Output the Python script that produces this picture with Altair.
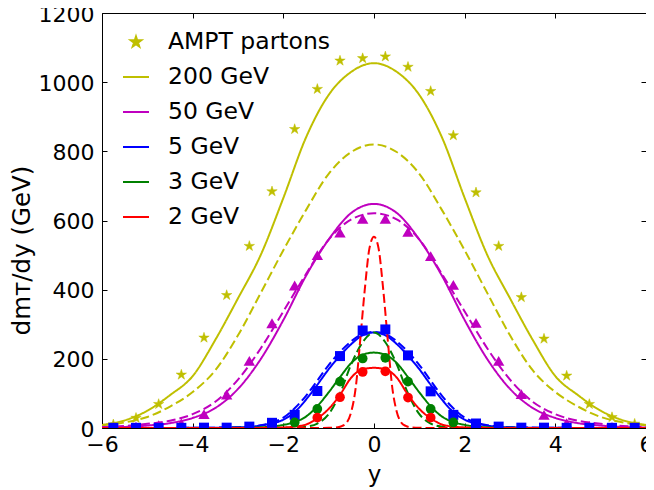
import math
import altair as alt
import pandas as pd

# ---------------- data ----------------
SERIES = ["AMPT partons", "200 GeV", "50 GeV", "5 GeV", "3 GeV", "2 GeV"]
COLORS = ["#bfbf00", "#bfbf00", "#bf00bf", "#0000ff", "#008000", "#ff0000"]

# wide curves (200 GeV, 50 GeV)
x_wide = [-6.0, -5.5, -5.0, -4.5, -4.0, -3.5, -3.0, -2.5, -2.0, -1.5, -1.0, -0.5, 0.0,
          0.5, 1.0, 1.5, 2.0, 2.5, 3.0, 3.5, 4.0, 4.5, 5.0, 5.5, 6.0]
y200_solid = [9, 22, 50, 95, 150, 255, 375, 500, 665, 840, 963, 1030, 1055,
              1030, 963, 840, 665, 500, 375, 255, 150, 95, 50, 22, 9]
y200_dash = [8, 16, 32, 62, 104, 167, 268, 390, 514, 630, 735, 798, 820,
             798, 735, 630, 514, 390, 268, 167, 104, 62, 32, 16, 8]
y50_solid = [1.5, 3, 7, 14, 29, 58, 113, 199, 312, 440, 545, 622, 648,
             622, 545, 440, 312, 199, 113, 58, 29, 14, 7, 3, 1.5]
y50_dash = [3, 6, 12, 21, 40, 76, 140, 230, 337, 445, 545, 603, 621,
            603, 545, 445, 337, 230, 140, 76, 40, 21, 12, 6, 3]

# narrower curves (5, 3, 2 GeV)
x_mid = [-6.0, -4.0, -3.0, -2.5, -2.25, -2.0, -1.75, -1.5, -1.25, -1.0, -0.75, -0.5, -0.25, 0.0,
         0.25, 0.5, 0.75, 1.0, 1.25, 1.5, 1.75, 2.0, 2.25, 2.5, 3.0, 4.0, 6.0]
y5_solid = [0, 0.5, 2, 7, 13, 24, 46, 82, 125, 170, 209, 243, 268, 276,
            268, 243, 209, 170, 125, 82, 46, 24, 13, 7, 2, 0.5, 0]
y5_dash = [0, 0.5, 2.5, 8, 16, 30, 57, 93, 137, 182, 220, 251, 272, 278,
           272, 251, 220, 182, 137, 93, 57, 30, 16, 8, 2.5, 0.5, 0]
y3_solid = [0, 0.2, 0.5, 2, 4, 9, 17, 33, 63, 103, 147, 188, 212, 218,
            212, 188, 147, 103, 63, 33, 17, 9, 4, 2, 0.5, 0.2, 0]
y3_dash = [0, 0, 0, 0.2, 0.3, 0.5, 1.5, 4, 13, 40, 100, 185, 248, 276,
           248, 185, 100, 40, 13, 4, 1.5, 0.5, 0.3, 0.2, 0, 0, 0]
y2_solid = [0, 0, 0.1, 0.3, 0.7, 1.5, 4, 10, 28, 55, 96, 146, 170, 174,
            170, 146, 96, 55, 28, 10, 4, 1.5, 0.7, 0.3, 0.1, 0, 0]

# very narrow 2 GeV dashed curve
x_red = [-6.0, -1.5, -1.0, -0.8, -0.7, -0.6, -0.5, -0.4, -0.3, -0.2, -0.1, 0.0,
         0.1, 0.2, 0.3, 0.4, 0.5, 0.6, 0.7, 0.8, 1.0, 1.5, 6.0]
y2_dash = [0, 0, 0.5, 2, 6, 16, 48, 120, 260, 405, 520, 553,
           520, 405, 260, 120, 48, 16, 6, 2, 0.5, 0, 0]

# markers
x_pts = [-5.75, -5.25, -4.75, -4.25, -3.75, -3.25, -2.75, -2.25, -1.75, -1.25, -0.75, -0.25,
         0.25, 0.75, 1.25, 1.75, 2.25, 2.75, 3.25, 3.75, 4.25, 4.75, 5.25, 5.75]
ampt = [10, 29, 69, 154, 261, 384, 526, 684, 864, 980, 1062, 1069,
        1074, 1044, 974, 846, 681, 526, 378, 258, 151, 69, 31, 12]
tri50 = [2, 4, 8, 13, 40, 97, 194, 303, 412, 500, 565, 605,
         605, 567, 497, 414, 304, 194, 98, 38, 14, 6, 3, 2]
sq5 = [0.5, 0.5, 0.5, 0.5, 1, 1, 4, 15, 38, 107, 208, 282,
       285, 210, 106, 38, 13, 4, 1, 1, 0.5, 0.5, 0.5, 0.5]
x_circ = [-1.75, -1.25, -0.75, -0.25, 0.25, 0.75, 1.25, 1.75]
circ3 = [16, 55, 134, 201, 203, 134, 55, 16]
x_circ2 = [-1.25, -0.75, -0.25, 0.25, 0.75, 1.25]
circ2 = [30, 89, 162, 164, 88, 30]

X_TICKS = [-6, -4, -2, 0, 2, 4, 6]
Y_TICKS = [0, 200, 400, 600, 800, 1000, 1200]

# ---------------- tables ----------------
rows = []
def add_line(xs, ys, series, style):
    for a, b in zip(xs, ys):
        rows.append({"x": a, "v": b, "series": series, "style": style, "key": series + "|" + style})

add_line(x_wide, y200_solid, "200 GeV", "solid")
add_line(x_wide, y200_dash, "200 GeV", "dashed")
add_line(x_wide, y50_solid, "50 GeV", "solid")
add_line(x_wide, y50_dash, "50 GeV", "dashed")
add_line(x_mid, y5_solid, "5 GeV", "solid")
add_line(x_mid, y5_dash, "5 GeV", "dashed")
add_line(x_mid, y3_solid, "3 GeV", "solid")
add_line(x_mid, y3_dash, "3 GeV", "dashed")
add_line(x_mid, y2_solid, "2 GeV", "solid")
add_line(x_red, y2_dash, "2 GeV", "dashed")
df_lines = pd.DataFrame(rows)

df_stars = pd.DataFrame({"x": x_pts, "v": ampt, "series": "AMPT partons"})
df_tri = pd.DataFrame({"x": x_pts, "v": tri50, "series": "50 GeV"})
df_sq = pd.DataFrame({"x": x_pts, "v": sq5, "series": "5 GeV"})
df_circ = pd.concat([
    pd.DataFrame({"x": x_circ, "v": circ3, "series": "3 GeV"}),
    pd.DataFrame({"x": x_circ2, "v": circ2, "series": "2 GeV"}),
])

# star symbol path (unit coordinates)
R, r = 0.42, 0.42 * 0.382
pts = []
for i in range(10):
    ang = -math.pi / 2 + i * math.pi / 5
    rad = R if i % 2 == 0 else r
    pts.append(f"{rad*math.cos(ang):.4f},{rad*math.sin(ang):.4f}")
STAR = "M" + "L".join(pts) + "Z"

FONT = "DejaVu Sans"
W, H = 544, 415

xscale = alt.Scale(domain=[-6, 6], nice=False, zero=False)
yscale = alt.Scale(domain=[0, 1200], nice=False, zero=False)
colscale = alt.Scale(domain=SERIES[1:], range=COLORS[1:])

x_bottom = alt.Axis(values=X_TICKS, orient="bottom", offset=-5, tickSize=5, domain=False, grid=False,
                    labelFlush=False, format="d",
                    labelFontSize=22, labelPadding=6, labelColor="black", tickColor="black",
                    title="y", titleFontSize=23, titleFontWeight="normal", titleColor="black",
                    titleBaseline="alphabetic", titleX=272, titleY=58, labelFont=FONT, titleFont=FONT)
y_left = alt.Axis(values=Y_TICKS, orient="left", offset=-5, tickSize=5, domain=False, grid=False,
                  format="d", labelFlush=False,
                  labelFontSize=22, labelPadding=8, labelColor="black", tickColor="black",
                  labelOffset=1,
                  title="dmᴛ/dy (GeV)", titleFontSize=24.5, titleFontWeight="normal", titleColor="black",
                  titleAngle=270, titleBaseline="alphabetic", titleAlign="center",
                  titleX=-78, titleY=237, labelFont=FONT, titleFont=FONT)
x_top = alt.Axis(values=X_TICKS, orient="top", offset=-5, tickSize=5, domain=False, grid=False,
                 labels=False, title=None, tickColor="black")
y_right = alt.Axis(values=Y_TICKS, orient="right", offset=-5, tickSize=5, domain=False, grid=False,
                   labels=False, title=None, tickColor="black")

lines = alt.Chart(df_lines).mark_line(strokeWidth=2, interpolate="monotone", clip=True).encode(
    x=alt.X("x:Q", scale=xscale, axis=x_bottom),
    y=alt.Y("v:Q", scale=yscale, axis=y_left),
    color=alt.Color("series:N", scale=colscale, legend=None),
    strokeDash=alt.StrokeDash("style:N", scale=alt.Scale(domain=["solid", "dashed"],
                                                          range=[[1, 0], [9, 4]]), legend=None),
    detail="key:N",
)

leg = alt.Legend(title=None, orient="none", legendX=20, legendY=15, padding=0,
                 symbolSize=676, symbolStrokeWidth=2, labelFontSize=23.5, labelFont=FONT,
                 labelColor="black", labelOffset=18, rowPadding=9, labelLimit=0)

stars = alt.Chart(df_stars).mark_point(filled=True, size=676, strokeWidth=0.5, opacity=1, clip=True).encode(
    x=alt.X("x:Q", scale=xscale, axis=None),
    y=alt.Y("v:Q", scale=yscale, axis=None),
    fill=alt.Fill("series:N", scale=alt.Scale(domain=SERIES, range=COLORS), legend=leg),
    stroke=alt.Stroke("series:N", scale=alt.Scale(domain=SERIES, range=COLORS), legend=leg),
    shape=alt.Shape("series:N", scale=alt.Scale(domain=SERIES, range=[STAR] + ["stroke"] * 5), legend=leg),
)

tri = alt.Chart(df_tri).mark_point(shape="triangle-up", size=130, filled=True, opacity=1, clip=True).encode(
    x=alt.X("x:Q", scale=xscale, axis=None),
    y=alt.Y("v:Q", scale=yscale, axis=None),
    color=alt.Color("series:N", scale=colscale, legend=None),
)

sq = alt.Chart(df_sq).mark_point(shape="square", size=100, filled=True, opacity=1, clip=True).encode(
    x=alt.X("x:Q", scale=xscale, axis=x_top),
    y=alt.Y("v:Q", scale=yscale, axis=y_right),
    color=alt.Color("series:N", scale=colscale, legend=None),
)

circ = alt.Chart(df_circ).mark_point(shape="circle", size=95, filled=True, opacity=1, clip=True).encode(
    x=alt.X("x:Q", scale=xscale, axis=None),
    y=alt.Y("v:Q", scale=yscale, axis=None),
    color=alt.Color("series:N", scale=colscale, legend=None),
)

chart = (
    alt.layer(lines, stars, tri, sq, circ)
    .resolve_axis(x="independent", y="independent")
    .properties(width=W, height=H,
                autosize=alt.AutoSizeParams(type="none"),
                padding={"left": 94, "top": 5, "right": 0, "bottom": 62})
    .configure(font=FONT)
    .configure_view(stroke="black", strokeWidth=1)
)

chart.save("out.html", embed_options={"renderer": "svg", "actions": False})
